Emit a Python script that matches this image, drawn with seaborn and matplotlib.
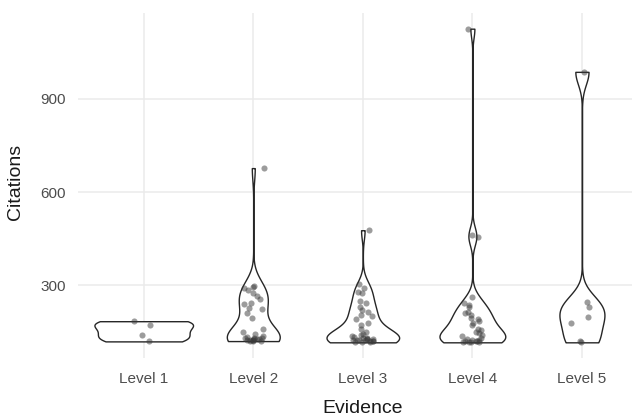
import numpy as np
import pandas as pd
import matplotlib
matplotlib.use("Agg")
import matplotlib.pyplot as plt
import seaborn as sns

# Citation counts per evidence level
levels = ["Level 1", "Level 2", "Level 3", "Level 4", "Level 5"]
level_1 = [184, 171, 139, 119]
level_2 = [677, 297, 294, 290, 284, 274, 265, 255, 242, 239, 226, 223, 210,
           194, 160, 150, 142, 136, 133, 131, 130, 129, 128, 127, 126, 125,
           124, 123, 122, 121, 120, 120]
level_3 = [477, 303, 290, 277, 274, 250, 242, 230, 219, 213, 203, 200, 190,
           177, 171, 160, 150, 142, 138, 135, 133, 131, 130, 128, 127, 126,
           125, 124, 123, 122, 121, 120, 119, 118, 117, 116]
level_4 = [1126, 460, 455, 261, 242, 235, 230, 215, 210, 203, 194, 190, 185,
           178, 171, 160, 155, 150, 145, 140, 135, 130, 127, 125, 122, 121,
           120, 119, 118, 117, 116, 116]
level_5 = [987, 245, 229, 197, 177, 119, 116]

groups = [level_1, level_2, level_3, level_4, level_5]
df = pd.DataFrame({
    "Evidence": np.repeat(levels, [len(g) for g in groups]),
    "Citations": np.concatenate(groups).astype(float),
})


def nrd0(kde):
    """Silverman's rule of thumb (R's bw.nrd0) as a gaussian_kde factor."""
    x = np.asarray(kde.dataset).ravel()
    sd = np.std(x, ddof=1)
    q75, q25 = np.percentile(x, [75, 25])
    lo = min(sd, (q75 - q25) / 1.34)
    if lo <= 0:
        lo = sd
    bw = 0.9 * lo * len(x) ** -0.2
    return bw / sd


sns.set_theme(style="whitegrid")
plt.rcParams["font.family"] = ["Liberation Sans", "DejaVu Sans"]

fig = plt.figure(figsize=(6.32, 4.17), dpi=100)
ax = fig.add_axes([78 / 632, 59 / 417, 554 / 632, 345 / 417])

sns.violinplot(
    data=df, x="Evidence", y="Citations", order=levels,
    color="white", linecolor="#262626", linewidth=1.0,
    inner=None, cut=0, density_norm="area", width=0.9,
    bw_method=nrd0, gridsize=512, saturation=1, ax=ax,
)

np.random.seed(7)
sns.stripplot(
    data=df, x="Evidence", y="Citations", order=levels,
    color="#3a3a3a", alpha=0.5, size=4.4, jitter=0.1,
    linewidth=0, ax=ax, zorder=3,
)

vmin, vmax = df["Citations"].min(), df["Citations"].max()
pad = 0.05 * (vmax - vmin)
ax.set_ylim(vmin - pad, vmax + pad)
ax.set_xlim(-0.6, 4.457)
ax.set_yticks([300, 600, 900])

ax.set_facecolor("white")
for s in ax.spines.values():
    s.set_visible(False)
ax.grid(True, color="#ebebeb", linewidth=1.1)
ax.set_axisbelow(True)
ax.tick_params(axis="both", length=0, labelsize=11, labelcolor="#4d4d4d")
ax.tick_params(axis="x", pad=10)
ax.tick_params(axis="y", pad=8.5)

ax.set_xlabel("Evidence", fontsize=14, color="#1a1a1a", va="center")
ax.set_ylabel("Citations", fontsize=14, color="#1a1a1a", va="center")
ax.xaxis.set_label_coords(0.514, -0.145)
ax.yaxis.set_label_coords(-0.112, 0.51)

fig.savefig("out.png", dpi=100, facecolor="white")
